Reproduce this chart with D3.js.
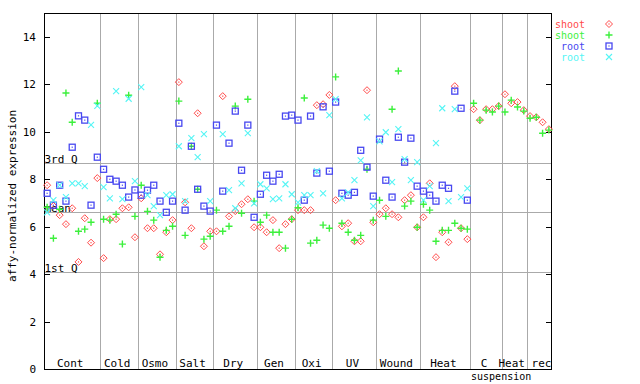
<!DOCTYPE html>
<html><head><meta charset="utf-8">
<script src="https://cdn.jsdelivr.net/npm/d3@7"></script>
<style>
html,body{margin:0;padding:0;background:#fff;}
svg text{font-family:"DejaVu Sans Mono","Liberation Mono",monospace;font-size:11px;fill:#000;}
</style></head>
<body>
<svg id="chart" width="640" height="384"></svg>
<script>
// ---------------- data ----------------
const categories = ["Cont","Cold","Osmo","Salt","Dry","Gen","Oxi","UV","Wound","Heat","C suspension","Heat rec"];
const sampleCounts = [9,6,6,6,7,6,6,7,7,8,5,8];
const extraDividers = [77];
const yTicks = [0,2,4,6,8,10,12,14];
const refLabels = ["3rd Q","mean","1st Q"];
const refValues = [8.68, 6.61, 4.09];
const seriesNames = ["shoot","shoot","root","root"];

const shootA = [
  7.75,6.88,6.49,6.11,6.78,4.52,6.36,5.33,8.05,
  4.68,6.32,6.32,6.78,6.82,5.56,
  7.2,5.94,5.94,4.84,5.77,6.28,
  12.09,7.03,5.94,10.78,5.18,5.81,
  5.81,11.5,6.44,6.66,6.95,7.16,5.98,
  5.98,5.77,6.28,5.1,6.11,6.32,
  6.7,6.7,6.7,11.12,11.16,11.55,
  7.12,6.02,6.15,5.39,5.39,11.75,6.19,
  6.53,6.78,6.53,6.4,7.12,7.33,5.98,
  6.4,7.83,4.72,5.77,5.35,11.92,5.94,5.48,
  10.95,10.49,10.95,10.95,11.08,
  11.58,11.2,11.25,10.91,10.66,10.61,10.4,10.11
];
const shootB = [
  6.82,5.52,6.74,11.63,10.4,5.81,5.9,6.19,11.2,
  6.32,6.28,6.53,5.27,11.54,6.44,
  7.75,6.65,6.28,4.72,5.85,6.02,
  11.29,5.64,9.39,7.58,5.48,5.6,
  6.7,5.81,6.02,11.08,6.57,11.37,7.08,
  6.19,6.49,5.77,5.77,5.1,6.32,
  6.8,11.42,5.31,5.43,6.07,5.94,
  12.31,6.15,5.77,5.43,5.64,8.42,6.28,
  7.12,6.44,10.95,12.56,6.87,7.08,5.98,
  6.95,6.7,5.39,5.85,5.85,6.15,5.94,5.9,
  11.2,10.49,10.91,10.83,11.08,
  10.83,11.33,11.04,10.87,10.57,10.61,9.94,10.07
];
const rootA = [
  7.41,6.91,7.75,7.08,9.35,10.67,10.49,6.91,8.93,
  8.42,8.0,7.92,7.75,7.25,7.55,
  7.33,7.54,7.75,7.08,6.61,7.08,
  10.36,6.7,9.39,7.58,6.87,6.66,
  10.28,7.5,9.52,10.87,8.38,10.28,6.4,
  7.37,8.17,7.92,8.21,10.66,10.7,
  10.49,7.12,10.66,8.26,11.05,8.34,
  11.25,7.41,7.33,7.45,9.22,8.51,7.29,
  9.69,7.96,7.25,9.77,8.72,9.73,7.71,
  7.5,7.33,7.08,7.75,7.62,11.71,10.99,7.12,
  null,null,null,null,null,
  null,null,null,null,null,null,null,null
];
const rootB = [
  6.61,7.12,7.75,7.25,7.83,7.83,7.71,10.29,11.09,
  7.67,7.2,11.71,7.16,11.39,7.92,
  11.88,7.33,6.87,6.49,7.33,7.37,
  9.39,7.08,9.73,8.93,9.9,7.08,
  null,9.9,7.54,6.78,7.83,9.94,6.99,
  7.79,7.62,7.16,7.2,7.79,7.37,
  7.03,7.33,7.33,8.34,7.41,10.7,
  11.37,7.2,7.45,7.96,8.8,10.61,6.87,
  9.6,9.98,7.88,10.11,8.85,7.96,8.72,
  7.12,7.71,9.52,10.99,7.08,10.95,7.25,7.62,
  null,null,null,null,null,
  null,null,null,null,null,null,null,null
];

// ---------------- layout ----------------
const svg = d3.select("#chart");
const L = 44, R = 552, T = 13, B = 369.3;
const nSamples = d3.sum(sampleCounts);
const x = d3.scaleLinear().domain([0, nSamples]).range([L, R]);
const y = d3.scaleLinear().domain([0, 15]).range([B, T]);
const colors = ["#ff4a4a", "#3cf03c", "#4848f0", "#55f5f5"];
const shapes = ["diamond", "plus", "square", "cross"];

const grid = svg.append("g").attr("stroke", "#aaaaaa").attr("stroke-width", 1).attr("shape-rendering", "crispEdges");

// category boundaries
const cum = [0];
sampleCounts.forEach(c => cum.push(cum[cum.length - 1] + c));
const dividers = cum.slice(1, -1).concat(extraDividers);
grid.selectAll("line.v").data(dividers).join("line")
  .attr("x1", d => Math.round(x(d)) + 0.5).attr("x2", d => Math.round(x(d)) + 0.5)
  .attr("y1", T).attr("y2", B);

// reference lines
grid.selectAll("line.h").data(refValues).join("line")
  .attr("x1", L).attr("x2", R)
  .attr("y1", d => Math.round(y(d)) + 0.5).attr("y2", d => Math.round(y(d)) + 0.5);

svg.append("g").selectAll("text").data(refLabels).join("text")
  .attr("x", 44.5).attr("y", (d, i) => Math.round(y(refValues[i])) - 0.5)
  .text(d => d);

// axes
const yAxis = d3.axisLeft(y).tickValues(yTicks).tickSizeInner(-6).tickSizeOuter(0).tickPadding(8);
const gy = svg.append("g").attr("transform", `translate(${L},0)`).call(yAxis);
gy.select(".domain").remove();
gy.selectAll("line").attr("stroke", "#000").attr("shape-rendering", "crispEdges");
gy.selectAll("text").style("font-family", '"DejaVu Sans Mono",monospace').style("font-size", "11px").attr("fill", "#000");

const yAxisR = d3.axisRight(y).tickValues(yTicks).tickSizeInner(-6).tickSizeOuter(0).tickFormat("");
const gyr = svg.append("g").attr("transform", `translate(${R},0)`).call(yAxisR);
gyr.select(".domain").remove();
gyr.selectAll("line").attr("stroke", "#000").attr("shape-rendering", "crispEdges");

// frame
svg.append("rect").attr("x", L + 0.5).attr("y", T + 0.5).attr("width", R - L - 1).attr("height", B - T - 0.5)
  .attr("fill", "none").attr("stroke", "#000").attr("stroke-width", 1).attr("shape-rendering", "crispEdges");

// category labels
const labG = svg.append("g");
categories.forEach((c, i) => {
  const cx = x((cum[i] + cum[i + 1]) / 2);
  const parts = (c === "C suspension") ? ["C", "suspension"] : [c];
  parts.forEach((p, j) => {
    labG.append("text").attr("x", cx + (j === 1 ? 15 : -2)).attr("y", j === 1 ? 380 : 367)
      .attr("text-anchor", "middle").style("font-size", j === 1 ? "10px" : "11px").text(p);
  });
});

// y label
svg.append("text").attr("transform", "translate(15.5,196) rotate(-90)")
  .attr("text-anchor", "middle").text("affy-normalized expression");

// markers
function drawMarker(g, shape, color) {
  if (shape === "diamond") {
    g.append("path").attr("d", "M0,-3.5L3.5,0L0,3.5L-3.5,0Z").attr("fill", "none").attr("stroke", color).attr("stroke-width", 1);
    g.append("rect").attr("x", -0.6).attr("y", -0.6).attr("width", 1.2).attr("height", 1.2).attr("fill", color);
  } else if (shape === "plus") {
    g.append("path").attr("d", "M-3.5,0H3.5M0,-3.5V3.5").attr("stroke", color).attr("stroke-width", 1.4).attr("fill", "none");
  } else if (shape === "square") {
    g.append("rect").attr("x", -3).attr("y", -3).attr("width", 6).attr("height", 6).attr("fill", "none").attr("stroke", color).attr("stroke-width", 1.3);
    g.append("rect").attr("x", -0.6).attr("y", -0.6).attr("width", 1.2).attr("height", 1.2).attr("fill", color);
  } else {
    g.append("path").attr("d", "M-3,-3L3,3M-3,3L3,-3").attr("stroke", color).attr("stroke-width", 1.1).attr("fill", "none");
  }
}

const allSeries = [shootA, shootB, rootA, rootB];
allSeries.forEach((vals, s) => {
  const pts = vals.map((v, i) => ({ i, v })).filter(d => d.v !== null);
  const g = svg.append("g");
  g.selectAll("g").data(pts).join("g")
    .attr("transform", d => `translate(${x(d.i + 0.5)},${y(d.v)})`)
    .each(function () { drawMarker(d3.select(this), shapes[s], colors[s]); });
});

// legend
const lg = svg.append("g");
seriesNames.forEach((n, s) => {
  const yy = 24 + s * 11;
  lg.append("text").attr("x", 585).attr("y", yy + 3.5).attr("text-anchor", "end")
    .style("font-size", "10px").style("fill", colors[s]).text(n);
  const m = lg.append("g").attr("transform", `translate(609,${yy})`);
  drawMarker(m, shapes[s], colors[s]);
});
</script>
</body></html>
